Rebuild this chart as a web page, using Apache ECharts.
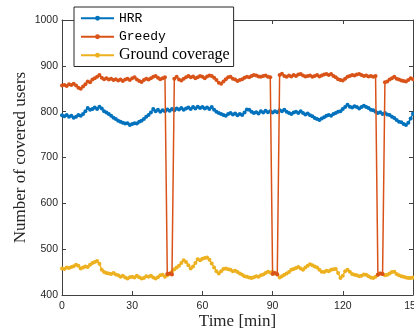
<!DOCTYPE html>
<html>
<head>
<meta charset="utf-8">
<script src="https://cdn.jsdelivr.net/npm/echarts@6/dist/echarts.min.js"></script>
<style>html,body{margin:0;padding:0;background:#fff}#c{width:414px;height:335px}</style>
</head>
<body>
<div id="c"></div>
<script>
const times = [];
for (let t = 0; t <= 150; t++) times.push(t);

const seriesNames = ['HRR', 'Greedy', 'Ground coverage'];
const xTicks = [0, 30, 60, 90, 120, 150];
const yTicks = [400, 500, 600, 700, 800, 900, 1000];

const hrr = [
792,790,793,789,791,787,789,793,791,795,
801,808,804,806,809,806,811,807,801,798,
795,791,787,784,780,778,776,774,775,771,
773,775,774,778,780,784,789,793,798,806,
801,804,800,803,801,805,802,806,803,807,
805,808,804,807,809,806,810,807,811,808,
810,807,809,806,810,804,800,797,795,793,
791,795,797,794,796,792,795,793,798,805,
804,800,797,799,796,801,798,802,799,801,
798,801,799,803,801,804,800,797,795,798,
800,797,801,797,794,796,792,790,786,784,
782,785,788,791,793,791,795,797,800,801,
806,810,815,811,809,812,810,807,810,813,
810,808,804,803,800,797,799,795,797,794,
793,789,786,782,778,777,773,771,776,785,
796];

const greedy = [
857,858,856,860,858,861,857,852,850,855,
860,866,864,870,873,876,880,874,871,873,
870,872,869,871,868,870,867,870,872,869,
873,875,870,867,865,869,872,870,873,876,
878,874,871,873,875,446,447,445,872,876,
870,868,872,875,878,875,877,873,875,878,
876,873,877,879,878,874,869,863,861,866,
871,875,876,872,870,867,869,871,874,876,
875,878,880,879,877,876,878,879,876,875,
446,448,445,880,883,878,876,879,877,880,
878,881,882,879,877,878,879,876,878,880,
877,879,881,882,880,882,878,875,871,869,
868,872,876,878,880,879,881,882,880,878,
879,877,878,876,878,444,447,446,864,866,
870,873,876,872,870,868,867,866,869,873,
871];

const ground = [
458,457,460,459,461,463,466,464,458,460,
462,461,466,470,472,474,468,455,450,448,
447,446,448,445,443,440,442,438,436,439,
440,438,442,439,436,437,441,440,442,438,
436,439,443,444,440,443,446,451,456,460,
464,470,476,472,465,458,462,470,478,476,
479,481,482,477,469,460,452,447,452,457,
458,456,455,452,453,450,447,444,441,440,
438,437,439,441,440,443,445,448,451,449,
450,447,446,438,441,444,447,450,455,457,
459,461,458,455,460,464,467,465,462,460,
455,451,450,453,452,455,456,457,448,437,
442,452,455,451,446,444,443,441,442,445,
444,441,438,437,440,445,447,446,443,444,
447,450,451,446,443,441,440,438,437,437,
438];

const colors = ['#0072BD', '#D95319', '#EDB120'];
const pair = arr => times.map((t, i) => [t, arr[i]]);

const axisColor = '#404040';
const chart = echarts.init(document.getElementById('c'), null, {renderer: 'canvas'});
const labelStyle = {color: '#262626', fontFamily: 'Liberation Sans, Arial, sans-serif', fontSize: 10.5, formatter: v => String(v)};

function mkSeries(name, arr, color, z) {
  return {
    name: name, type: 'line', data: pair(arr), z: z,
    showSymbol: true, showAllSymbol: true, symbol: 'circle', symbolSize: 4,
    itemStyle: {color: color}, lineStyle: {color: color, width: 1.5},
    animation: false, clip: true
  };
}

chart.setOption({
  animation: false,
  grid: {left: 62, right: 1, top: 20, bottom: 40, containLabel: false, outerBoundsMode: 'none'},
  legend: {
    orient: 'vertical', left: 74, top: 7,
    padding: [2, 4, 2, 6],
    itemWidth: 33, itemHeight: 6, itemGap: 0,
    backgroundColor: '#fff', borderColor: '#262626', borderWidth: 1,
    textStyle: {color: '#000', lineHeight: 18.5},
    data: [
      {name: seriesNames[0], textStyle: {fontFamily: 'Liberation Mono, monospace', fontSize: 13, lineHeight: 18.5}},
      {name: seriesNames[1], textStyle: {fontFamily: 'Liberation Mono, monospace', fontSize: 13, lineHeight: 18.5}},
      {name: seriesNames[2], textStyle: {fontFamily: 'Liberation Serif, serif', fontSize: 16, lineHeight: 18.5}}
    ]
  },
  xAxis: [{
    type: 'value', min: xTicks[0], max: xTicks[xTicks.length - 1], interval: 30,
    name: 'Time [min]', nameLocation: 'middle', nameGap: 18, nameMoveOverlap: false,
    nameTextStyle: {fontFamily: 'Liberation Serif, serif', fontSize: 17, color: '#262626'},
    axisLine: {show: true, onZero: false, lineStyle: {color: axisColor, width: 1}},
    axisTick: {show: true, inside: true, length: 4, lineStyle: {color: axisColor}},
    axisLabel: Object.assign({margin: 6}, labelStyle),
    splitLine: {show: false}
  }, {
    type: 'value', position: 'top', min: 0, max: 150, interval: 30,
    axisLine: {show: true, onZero: false, lineStyle: {color: axisColor, width: 1}},
    axisTick: {show: true, inside: true, length: 4, lineStyle: {color: axisColor}},
    axisLabel: {show: false}, splitLine: {show: false}
  }],
  yAxis: [{
    type: 'value', min: yTicks[0], max: yTicks[yTicks.length - 1], interval: 100,
    name: 'Number of covered users', nameLocation: 'middle', nameGap: 33, nameRotate: 90, nameMoveOverlap: false,
    nameTextStyle: {fontFamily: 'Liberation Serif, serif', fontSize: 17, color: '#262626'},
    axisLine: {show: true, onZero: false, lineStyle: {color: axisColor, width: 1}},
    axisTick: {show: true, inside: true, length: 4, lineStyle: {color: axisColor}},
    axisLabel: Object.assign({margin: 4}, labelStyle),
    splitLine: {show: false}
  }, {
    type: 'value', position: 'right', min: 400, max: 1000, interval: 100,
    axisLine: {show: true, onZero: false, lineStyle: {color: axisColor, width: 1}},
    axisTick: {show: true, inside: true, length: 4, lineStyle: {color: axisColor}},
    axisLabel: {show: false}, splitLine: {show: false}
  }],
  series: [
    mkSeries(seriesNames[0], hrr, colors[0], 2),
    mkSeries(seriesNames[1], greedy, colors[1], 4),
    mkSeries(seriesNames[2], ground, colors[2], 3)
  ]
});
</script>
</body>
</html>
